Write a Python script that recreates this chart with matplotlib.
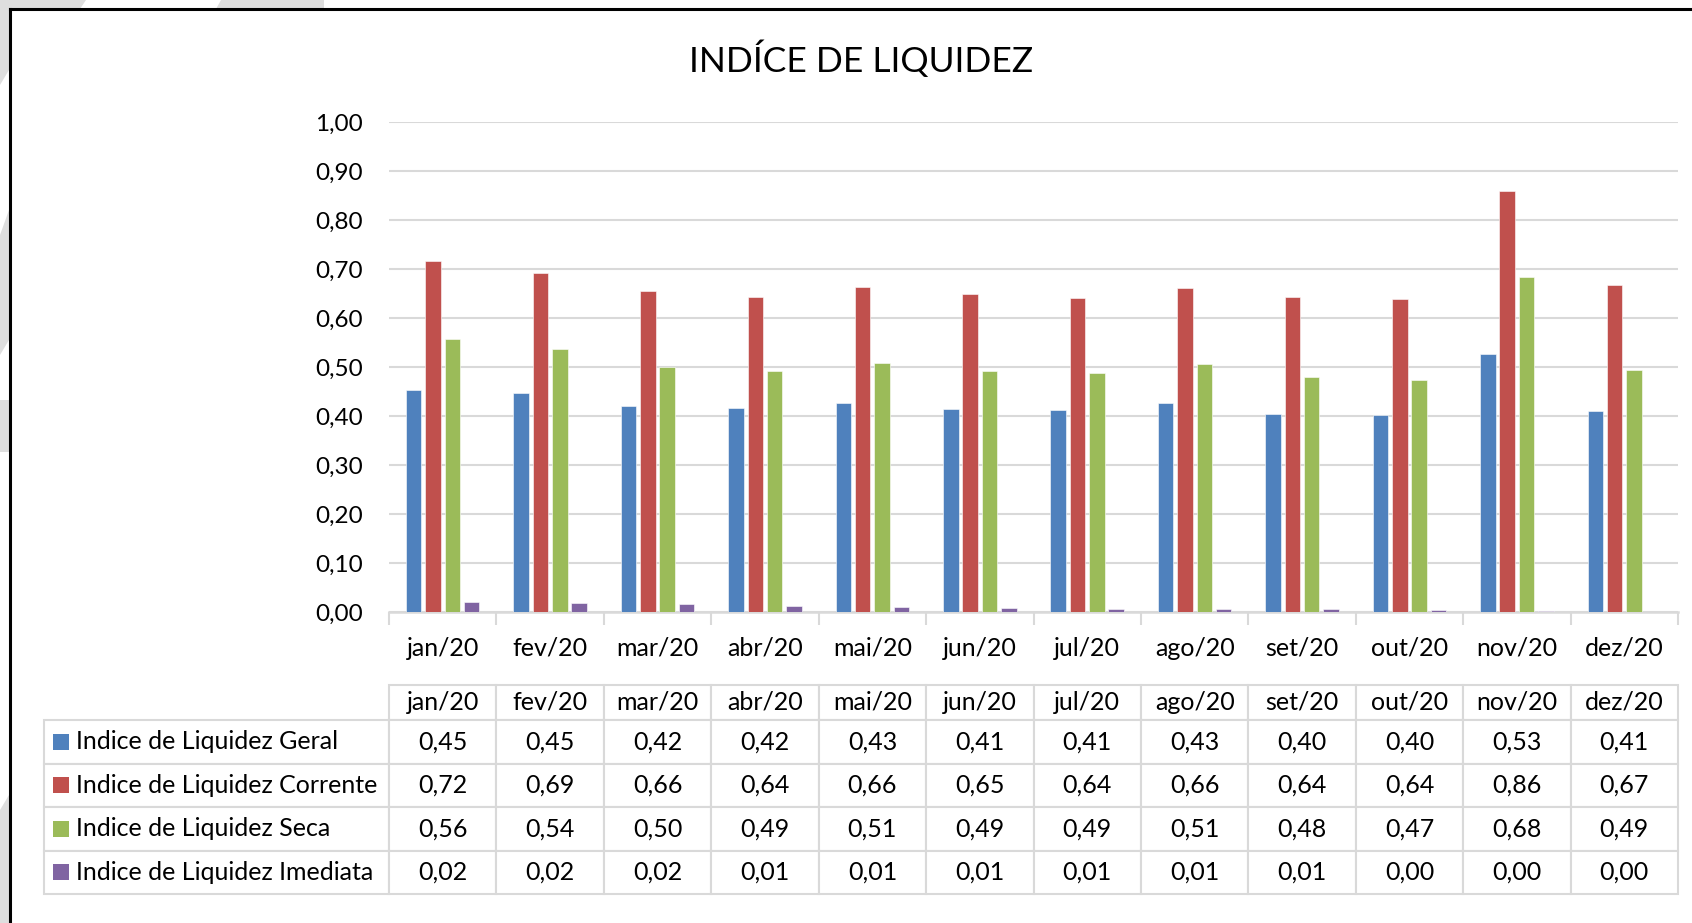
"""
Índice de liquidez 2020 — barras agrupadas com tabela de dados (estilo Excel).
"""

import numpy as np
import matplotlib
matplotlib.use("Agg")
import matplotlib.pyplot as plt
from matplotlib.patches import Rectangle, Polygon
from matplotlib.lines import Line2D
from matplotlib.ticker import FuncFormatter

plt.rcParams["font.family"] = ["Lato", "DejaVu Sans"]

# ── Dados ─────────────────────────────────────────────────────────────
meses = ["jan/20", "fev/20", "mar/20", "abr/20", "mai/20", "jun/20",
         "jul/20", "ago/20", "set/20", "out/20", "nov/20", "dez/20"]
series = ["Indice de Liquidez Geral", "Indice de Liquidez Corrente",
          "Indice de Liquidez Seca", "Indice de Liquidez Imediata"]
geral = [0.454, 0.446, 0.420, 0.417, 0.426, 0.414, 0.412, 0.427, 0.404, 0.403, 0.526, 0.410]
corrente = [0.716, 0.692, 0.656, 0.642, 0.663, 0.650, 0.641, 0.661, 0.643, 0.639, 0.859, 0.667]
seca = [0.557, 0.537, 0.500, 0.491, 0.509, 0.491, 0.487, 0.507, 0.480, 0.474, 0.684, 0.493]
imediata = [0.020, 0.018, 0.016, 0.012, 0.010, 0.008, 0.007, 0.006, 0.0055, 0.004, 0.003, 0.0]
cores = ["#4F81BD", "#C0504D", "#9BBB59", "#8064A2"]

valores = [geral, corrente, seca, imediata]

# ── Layout (pixels) ───────────────────────────────────────────────────
W, H = 1692, 923
AX_L, AX_R, AX_T, AX_B = 389, 1678, 122, 612
GRID = "#d9d9d9"


def fmt(v):
    return f"{v:.2f}".replace(".", ",")


fig = plt.figure(figsize=(W / 100, H / 100), dpi=100)
ax = fig.add_axes([AX_L / W, 1 - AX_B / H, (AX_R - AX_L) / W, (AX_B - AX_T) / H])

x = np.arange(len(meses))
larg = 0.145
passo = 0.18
for i, (vals, cor) in enumerate(zip(valores, cores)):
    ax.bar(x + (i - 1.5) * passo, vals, width=larg, color=cor,
           edgecolor="white", linewidth=0.4, zorder=3)

ax.set_xlim(-0.5, len(meses) - 0.5)
ax.set_ylim(0, 1.0)
ax.set_yticks(np.arange(0, 1.01, 0.1))
ax.yaxis.set_major_formatter(FuncFormatter(lambda v, _: fmt(v)))
ax.yaxis.grid(True, color=GRID, linewidth=1.5)
ax.set_axisbelow(True)

for s in ["top", "right", "left"]:
    ax.spines[s].set_visible(False)
ax.spines["bottom"].set_color(GRID)
ax.spines["bottom"].set_linewidth(1.8)

ax.set_xticks(x)
ax.set_xticklabels(meses)
ax.set_xticks(np.arange(-0.5, len(meses)), minor=True)
ax.tick_params(axis="x", which="major", length=0, pad=18, labelsize=18)
ax.tick_params(axis="x", which="minor", length=9, width=1.5, color=GRID)
ax.tick_params(axis="y", length=0, pad=19, labelsize=17.5)

# ── Título ────────────────────────────────────────────────────────────
fig.text(861 / W, 1 - 59 / H, "INDÍCE DE LIQUIDEZ", ha="center", va="center",
         fontsize=25.5)

# ── Tabela de dados ───────────────────────────────────────────────────
alt_ax = AX_B - AX_T
larg_ax = AX_R - AX_L
cab_h = 35
lin_h = 43.5
tab_top = 685
tab_bot = tab_top + cab_h + 4 * lin_h
rot_w = AX_L - 44

celulas = [[fmt(v) for v in vals] for vals in valores]
tbl = ax.table(cellText=celulas, colLabels=meses,
               colWidths=[1 / len(meses)] * len(meses),
               cellLoc="center", colLoc="center",
               bbox=[0, (AX_B - tab_bot) / alt_ax, 1, (tab_bot - tab_top) / alt_ax])
for k, nome in enumerate(series):
    tbl.add_cell(k + 1, -1, width=rot_w / larg_ax, height=lin_h / alt_ax,
                 text=nome, loc="left")
tbl.auto_set_font_size(False)
tbl.set_fontsize(18)
for (r, c), cell in tbl.get_celld().items():
    cell.set_edgecolor(GRID)
    cell.set_linewidth(1.5)
    cell.set_height((cab_h if r == 0 else lin_h) / alt_ax)
    if c == -1:
        cell.PAD = 32 / rot_w

# marcadores da legenda na tabela
for k, cor in enumerate(cores):
    yc = tab_top + cab_h + (k + 0.5) * lin_h
    ax.add_patch(Rectangle(((53 - AX_L) / larg_ax, (AX_B - yc - 8) / alt_ax),
                           16 / larg_ax, 16 / alt_ax, facecolor=cor,
                           transform=ax.transAxes, clip_on=False, zorder=5))

# ── Moldura e formas de fundo ─────────────────────────────────────────
def px(pts):
    return [(a / W, 1 - b / H) for a, b in pts]


for forma in [
    [(0, 0), (86, 0), (80, 9), (0, 9)],
    [(221, 0), (324, 0), (324, 9), (216, 9)],
    [(0, 0), (9, 0), (9, 70), (0, 85)],
    [(0, 235), (9, 210), (9, 340), (0, 355)],
    [(0, 400), (9, 400), (9, 452), (0, 452)],
    [(0, 810), (9, 795), (9, 923), (0, 923)],
]:
    fig.patches.append(Polygon(px(forma), closed=True, facecolor="#dedede",
                               edgecolor="none", transform=fig.transFigure))

fig.lines.append(Line2D([10 / W, 10 / W], [0, 1 - 9 / H], color="black",
                        linewidth=2.2, transform=fig.transFigure))
fig.lines.append(Line2D([10 / W, 1], [1 - 9 / H, 1 - 9 / H], color="black",
                        linewidth=2.2, transform=fig.transFigure))

fig.savefig("out.png", dpi=100)
plt.close(fig)
